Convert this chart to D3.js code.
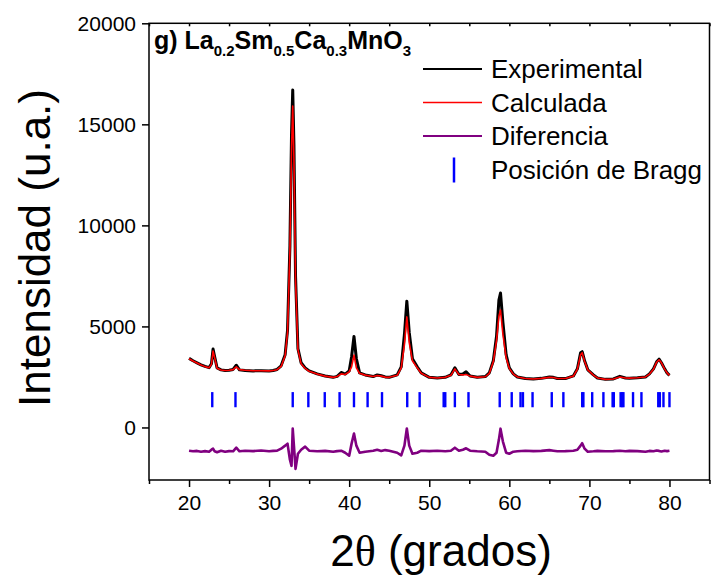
<!DOCTYPE html>
<html>
<head>
<meta charset="utf-8">
<script src="https://cdn.jsdelivr.net/npm/d3@7"></script>
<style>
  body { margin: 0; background: #fff; }
  text { font-family: Arial, "Liberation Sans", sans-serif; }
</style>
</head>
<body>
<div id="chart-area"></div>
<script>
// 2theta positions (shared by the three curves)
var tth = [20, 20.5, 21, 21.5, 22, 22.5, 22.8, 23.0, 23.2, 23.5, 24, 24.5, 25, 25.5, 25.9, 26.3, 27, 28, 29, 30,
  30.5, 31, 31.5, 32, 32.3, 32.6, 32.8, 32.95, 33.1, 33.3, 33.6, 34, 34.5, 35, 36, 37, 38, 38.5, 39, 39.5,
  40, 40.3, 40.6, 40.9, 41.3, 42, 43, 43.5, 44, 44.5, 45, 46, 46.5, 46.9, 47.2, 47.5, 47.9, 48.5, 49, 50,
  51, 52, 52.7, 53.2, 53.7, 54.2, 54.6, 55.1, 56, 57, 57.5, 58, 58.4, 58.7, 58.9, 59.2, 59.6, 60, 60.5, 61,
  62, 63, 64, 65, 65.5, 66, 67, 68, 68.5, 68.9, 69.1, 69.4, 69.8, 70.5, 71, 72, 73, 73.8, 74.5, 75,
  76, 77, 77.5, 78, 78.4, 78.7, 79, 79.4, 79.7, 80];

// experimental intensity
var obs = [3420, 3300, 3200, 3100, 3020, 2960, 3150, 3880, 3500, 2950, 2850, 2820, 2830, 2870, 3080, 2850, 2820, 2800, 2810, 2790,
  2820, 2870, 3050, 3600, 4800, 9000, 14500, 16700, 14000, 7500, 3900, 3200, 2950, 2800, 2650, 2550, 2480, 2530, 2720, 2640,
  2800, 3500, 4500, 3400, 2700, 2600, 2520, 2600, 2560, 2500, 2480, 2600, 3000, 4600, 6250, 4700, 3400, 3000, 2700, 2480,
  2450, 2480, 2600, 2950, 2620, 2650, 2760, 2550, 2480, 2520, 2700, 3300, 4500, 6300, 6650, 5200, 3600, 2950, 2650, 2500,
  2420, 2400, 2430, 2500, 2480, 2420, 2420, 2550, 2900, 3700, 3750, 3300, 2850, 2600, 2450, 2380, 2400, 2530, 2450, 2440,
  2460, 2500, 2650, 2900, 3250, 3380, 3200, 2900, 2700, 2580];

// calculated intensity
var calc = [3400, 3290, 3190, 3090, 3010, 2950, 3120, 3780, 3450, 2930, 2840, 2820, 2830, 2860, 3000, 2860, 2830, 2810, 2810, 2800,
  2820, 2860, 3020, 3550, 4700, 8800, 13800, 15900, 13300, 7300, 3850, 3150, 2920, 2780, 2640, 2540, 2480, 2520, 2650, 2620,
  2750, 3000, 3580, 2950, 2680, 2590, 2520, 2570, 2540, 2490, 2480, 2580, 2950, 4100, 5470, 4200, 3300, 2950, 2680, 2480,
  2450, 2480, 2580, 2900, 2620, 2600, 2620, 2540, 2480, 2510, 2680, 3250, 4300, 5500, 5810, 4600, 3450, 2920, 2640, 2500,
  2420, 2400, 2430, 2480, 2470, 2420, 2420, 2540, 2880, 3600, 3700, 3280, 2850, 2590, 2450, 2380, 2400, 2500, 2450, 2440,
  2460, 2500, 2640, 2880, 3230, 3350, 3200, 2890, 2700, 2580];

// difference curve
var diff = [-1150, -1180, -1160, -1200, -1170, -1200, -1100, -1050, -1180, -1230, -1150, -1200, -1170, -1180, -1000, -1180, -1150, -1170, -1140, -1180,
  -1160, -1150, -1050, -900, -800, -1600, -1900, -50, -900, -2050, -1300, -1100, -950, -1150, -1180, -1160, -1200, -1170, -1150, -1250,
  -1400, -800, -300, -900, -1250, -1200, -1150, -1100, -1160, -1120, -1150, -1250, -1380, -900, -50, -900, -1300, -1250, -1150, -1170,
  -1150, -1180, -1150, -1000, -1150, -1100, -1030, -1150, -1180, -1200, -1350, -1400, -1250, -600, -60, -700, -1250, -1300, -1200, -1180,
  -1150, -1170, -1160, -1120, -1150, -1180, -1170, -1150, -1100, -900, -780, -1050, -1200, -1180, -1160, -1180, -1170, -1150, -1180, -1160,
  -1170, -1200, -1160, -1180, -1140, -1160, -1190, -1150, -1170, -1150];

// Bragg reflections
var bragg = [22.9, 25.8, 32.95, 34.9, 36.95, 38.8, 40.6, 42.3, 44.1, 47.25, 48.8, 51.8, 52.0, 53.2, 54.9,
  58.8, 60.3, 61.4, 61.7, 62.9, 65.3, 66.75, 69.1, 69.25, 70.35, 71.75, 72.9, 73.05, 73.9, 74.1, 74.25,
  75.45, 76.5, 78.6, 78.8, 79.25, 80.0];
var braggLow = 1000, braggHigh = 1750;

var xTicks = [20, 30, 40, 50, 60, 70, 80];
var xMinor = [15, 25, 35, 45, 55, 65, 75, 85];
var yTicks = [0, 5000, 10000, 15000, 20000];

var legendItems = ["Experimental", "Calculada", "Diferencia", "Posición de Bragg"];
var legendColors = ["#000000", "#ff0000", "#800080", "#0000ff"];

var W = 712, H = 583;
var svg = d3.select("#chart-area").append("svg")
    .attr("width", W)
    .attr("height", H);

var x = d3.scaleLinear().domain([15, 85]).range([149, 709.5]);
var y = d3.scaleLinear().domain([-2600, 20000]).range([480, 23.3]);

// data curves
var pts = function(vals) { return tth.map(function(t, i) { return [t, vals[i]]; }); };
var line = d3.line()
    .x(function(d) { return x(d[0]); })
    .y(function(d) { return y(d[1]); });

svg.append("path").datum(pts(obs))
    .attr("d", line).attr("fill", "none")
    .attr("stroke", "#000").attr("stroke-width", 3).attr("stroke-linejoin", "round");
svg.append("path").datum(pts(calc))
    .attr("d", line).attr("fill", "none")
    .attr("stroke", "#ff0000").attr("stroke-width", 1.6).attr("stroke-linejoin", "round");
svg.append("path").datum(pts(diff))
    .attr("d", line).attr("fill", "none")
    .attr("stroke", "#800080").attr("stroke-width", 2.6).attr("stroke-linejoin", "round");

svg.selectAll(".bragg").data(bragg).enter().append("line")
    .attr("class", "bragg")
    .attr("x1", function(d) { return x(d); })
    .attr("x2", function(d) { return x(d); })
    .attr("y1", y(braggLow))
    .attr("y2", y(braggHigh))
    .attr("stroke", "#0000ff")
    .attr("stroke-width", 2.4);

// frame
svg.append("rect")
    .attr("x", x(15)).attr("y", y(20000))
    .attr("width", x(85) - x(15)).attr("height", y(-2600) - y(20000))
    .attr("fill", "none").attr("stroke", "#000").attr("stroke-width", 1.5);

// axes
var xAxis = svg.append("g")
    .attr("transform", "translate(0," + y(-2600) + ")")
    .call(d3.axisBottom(x).tickValues(xTicks).tickSize(7).tickPadding(8).tickFormat(d3.format("d")));
svg.append("g")
    .attr("transform", "translate(0," + y(-2600) + ")")
    .call(d3.axisBottom(x).tickValues(xMinor).tickSize(4).tickFormat(""));
svg.append("g")
    .attr("transform", "translate(0," + y(20000) + ")")
    .call(d3.axisBottom(x).tickValues(xTicks.concat(xMinor)).tickSize(3).tickFormat(""));

var yAxis = svg.append("g")
    .attr("transform", "translate(" + x(15) + ",0)")
    .call(d3.axisLeft(y).tickValues(yTicks).tickSize(7).tickPadding(6).tickFormat(d3.format("d")));

svg.selectAll(".domain").remove();
svg.selectAll(".tick line").attr("stroke", "#000").attr("stroke-width", 1.5);
svg.selectAll(".tick text")
    .attr("fill", "#000")
    .style("font-size", "21px")
    .style("font-family", "Arial, 'Liberation Sans', sans-serif");

// axis titles
svg.append("text")
    .attr("transform", "translate(50,248) rotate(-90)")
    .attr("text-anchor", "middle")
    .style("font-size", "44px")
    .text("Intensidad (u.a.)");

var xt = svg.append("text")
    .attr("x", 441).attr("y", 566)
    .attr("text-anchor", "middle")
    .style("font-size", "44px");
xt.append("tspan").text("2");
xt.append("tspan").style("font-family", "'Liberation Serif', serif").text("θ");
xt.append("tspan").text(" (grados)");

// sample label
var lab = svg.append("text")
    .attr("x", 154).attr("y", 56)
    .style("font-size", "25px")
    .style("font-weight", "bold");
var parts = [["g) La", false], ["0.2", true], ["Sm", false], ["0.5", true], ["Ca", false], ["0.3", true], ["MnO", false], ["3", true]];
parts.forEach(function(p) {
  lab.append("tspan")
      .attr("dy", p[1] ? 7 : (lab.selectAll("tspan").size() ? -7 : 0))
      .style("font-size", p[1] ? "15px" : "25px")
      .text(p[0]);
});

// legend
var leg = svg.append("g");
legendItems.forEach(function(name, i) {
  var ly = 69 + i * 33.5;
  if (i < 3) {
    leg.append("line")
        .attr("x1", 423).attr("x2", 482)
        .attr("y1", ly).attr("y2", ly)
        .attr("stroke", legendColors[i]).attr("stroke-width", i == 1 ? 1.6 : 2);
  } else {
    leg.append("line")
        .attr("x1", 454).attr("x2", 454)
        .attr("y1", ly - 12).attr("y2", ly + 13)
        .attr("stroke", legendColors[i]).attr("stroke-width", 2.5);
  }
  leg.append("text")
      .attr("x", 491).attr("y", ly + 9)
      .style("font-size", "26px")
      .text(name);
});
</script>
</body>
</html>
